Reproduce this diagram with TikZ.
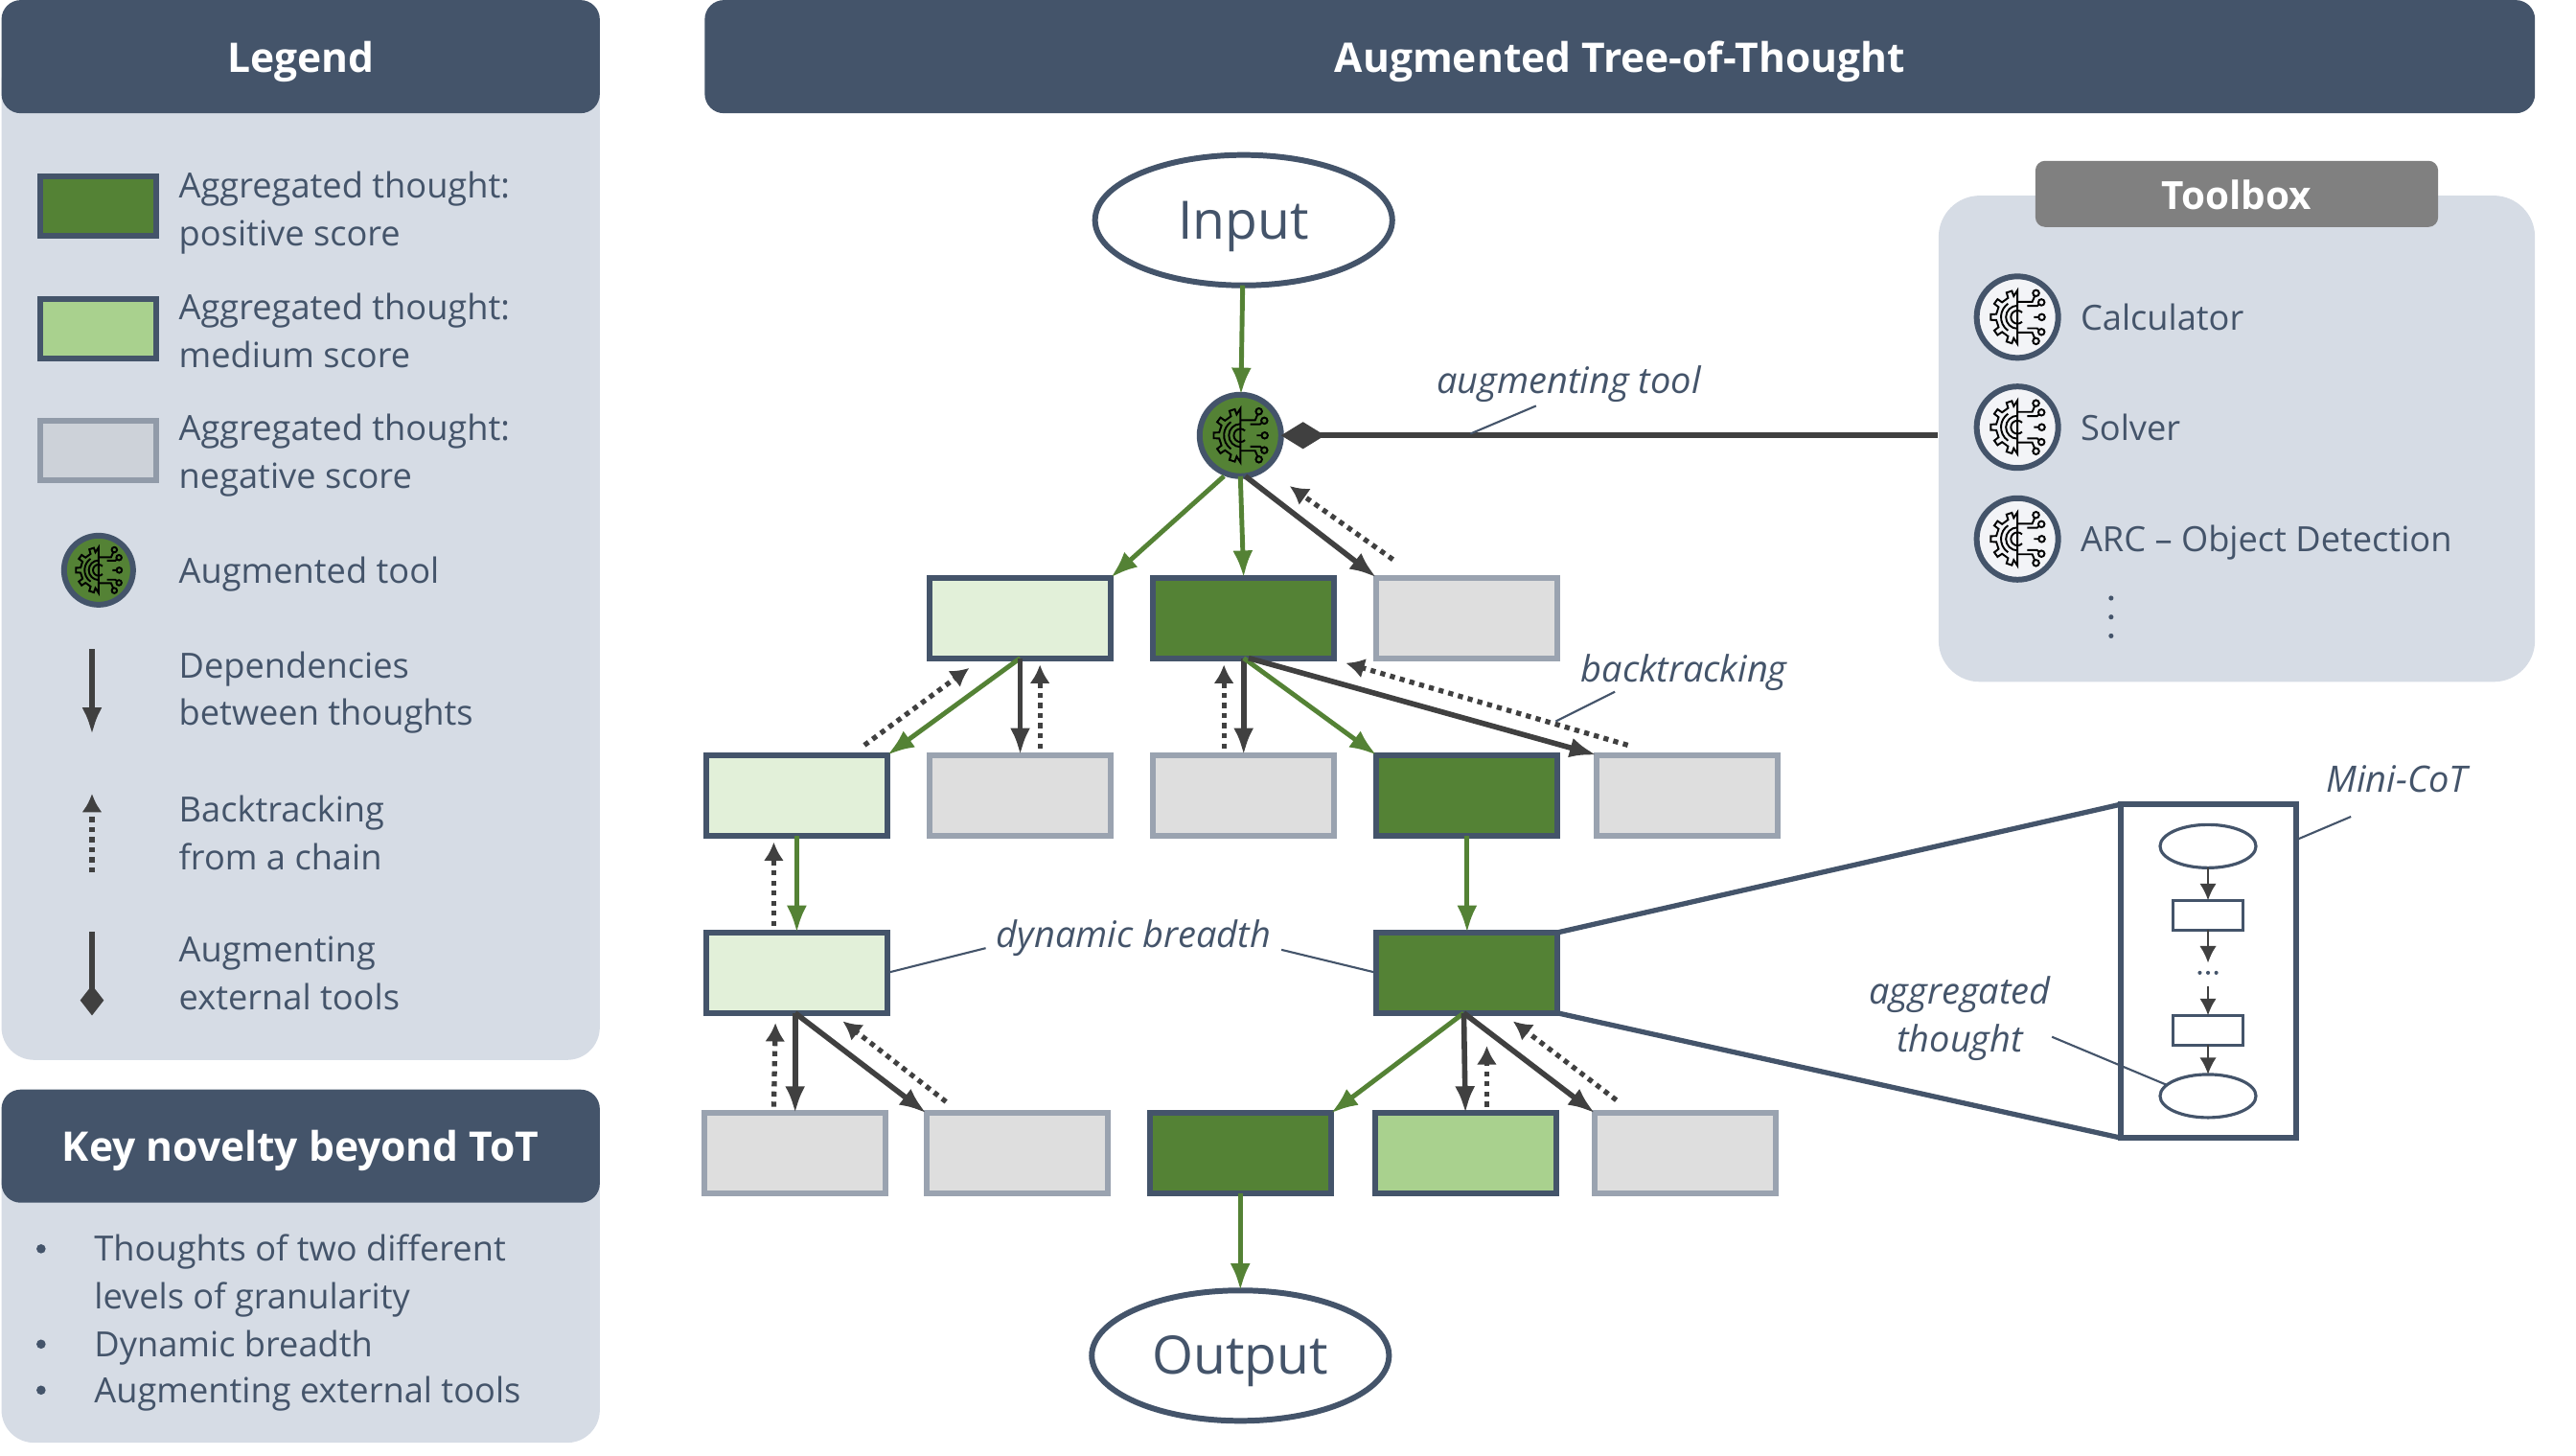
\documentclass[tikz,border=0pt]{standalone}
\usepackage{fontspec}
\setmainfont{Open Sans}
\usetikzlibrary{arrows.meta,shapes.geometric}
\definecolor{slate}{HTML}{44546A}
\definecolor{panel}{HTML}{D6DCE5}
\definecolor{leaf}{HTML}{548235}
\definecolor{medleaf}{HTML}{A9D18E}
\definecolor{paleleaf}{HTML}{E2F0D9}
\definecolor{ash}{HTML}{DEDEDE}
\definecolor{ashline}{HTML}{9AA3B0}
\definecolor{ink}{HTML}{404040}
\newcommand{\headlabel}[1]{\raisebox{-4.6pt}[0pt][0pt]{#1}}
\newcommand{\ovallabel}[1]{\raisebox{-5.6pt}[0pt][0pt]{#1}}
\tikzset{
  thought/.style={rectangle,line width=1.7pt,outer sep=0pt,minimum width=1.89cm,minimum height=0.84cm},
  thoughtpos/.style={thought,draw=slate,fill=leaf},
  thoughtmed/.style={thought,draw=slate,fill=medleaf},
  thoughtpale/.style={thought,draw=slate,fill=paleleaf},
  thoughtneg/.style={thought,draw=ashline,fill=ash},
  swatch/.style={rectangle,line width=1.7pt,outer sep=0pt,minimum width=1.21cm,minimum height=0.62cm},
  endpoint/.style={ellipse,draw=slate,fill=white,line width=1.7pt,outer sep=0pt,minimum width=3.1cm,minimum height=1.36cm,text=slate,font=\fontsize{15.7}{19}\selectfont},
  toolnode/.style={circle,draw=slate,line width=1.7pt,inner sep=0pt,outer sep=0pt,minimum size=0.85cm},
  header/.style={rectangle,rounded corners=0.2cm,fill=slate,minimum height=1.18cm,text=white,font=\fontsize{12.1}{15}\selectfont\bfseries},
  legtext/.style={anchor=west,align=left,inner sep=0pt,text=slate,font=\fontsize{10.3}{14.2}\selectfont},
  anno/.style={align=center,inner sep=0pt,text=slate,font=\fontsize{10.8}{14.2}\selectfont\itshape},
  leader/.style={draw=slate,line width=0.6pt},
  dep/.style={draw=ink,line width=1.6pt,-{Latex[length=8pt,width=6pt]}},
  depgood/.style={draw=leaf,line width=1.4pt,-{Latex[length=8pt,width=6pt]}},
  back/.style={draw=ink,line width=1.5pt,dash pattern=on 1.5pt off 1.5pt,-{Latex[length=5.5pt,width=6pt]}},
  mini/.style={draw=ink,line width=0.7pt,-{Latex[length=5pt,width=5pt]}},
  gearicon/.pic={
    \draw[black,line width=0.55pt] (0,-16.3)
      \foreach \a in {252,216,180,144,108} { -- (\a+8:13) -- (\a+6:16.3) -- (\a-6:16.3) -- (\a-8:13) }
      -- (0,16.3) -- cycle;
    \draw[black,line width=0.55pt] (45:4) arc[start angle=45,end angle=315,radius=4];
    \draw[black,line width=0.55pt] (90:7) arc[start angle=90,end angle=270,radius=7];
    \draw[black,line width=0.55pt] (125:10) arc[start angle=125,end angle=235,radius=10];
    \foreach \s in {1,-1} {
      \draw[black,line width=0.55pt] (0,\s*9.3) -- (9,\s*9.3) -- (10.5,\s*12.8) (11.3,\s*14.6) circle[radius=1.9];
      \draw[black,line width=0.55pt] (6,\s*6.8) -- (12,\s*6.8) -- (13.2,\s*7.9) (14.6,\s*9) circle[radius=1.9];
    }
    \draw[black,line width=0.55pt] (10,0) -- (12.8,0) (14.8,0) circle[radius=1.9];
  }
}
\begin{document}
\begin{tikzpicture}[x=0.01714cm,y=-0.01714cm]
  \useasboundingbox (0,0) rectangle (1568,886);
  % legend
  \node[fill=panel,rounded corners=0.34cm,minimum width=6.24cm,minimum height=10.54cm] (legendbody) at (183,337.5) {};
  \node[header,minimum width=6.24cm] (legendhead) at (183,34.5) {\headlabel{Legend}};
  \node[swatch,draw=slate,fill=leaf] (swatchpos) at (60,125.5) {};
  \node[swatch,draw=slate,fill=medleaf] (swatchmed) at (60,200) {};
  \node[swatch,draw=ashline!90!slate,fill=ash!80!slate!40!panel] (swatchneg) at (60,274) {};
  \node[toolnode,fill=leaf,minimum size=0.72cm] (swatchtool) at (60,347) {};
  \pic[scale=0.85] at (swatchtool) {gearicon};
  \node[legtext] at (108.5,129.5) {Aggregated thought:\\positive score};
  \node[legtext] at (108.5,201) {Aggregated thought:\\medium score};
  \node[legtext] at (108.5,277) {Aggregated thought:\\negative score};
  \node[legtext] at (108.5,349.5) {Augmented tool};
  \node[legtext] at (108.5,421.5) {Dependencies\\between thoughts};
  \node[legtext] at (108.5,507) {Backtracking\\from a chain};
  \node[legtext] at (108.5,592.5) {Augmenting\\external tools};
  \coordinate (keydepa) at (56,395);
  \coordinate (keydepb) at (56,447);
  \coordinate (keybacka) at (56,531);
  \coordinate (keybackb) at (56,483);
  \coordinate (keytoola) at (56,567);
  \coordinate (keytoolb) at (56,618);
  \draw[dep] (keydepa) -- (keydepb);
  \draw[back] (keybacka) -- (keybackb);
  \draw[draw=ink,line width=1.6pt,-{Diamond[length=9pt,width=7pt]}] (keytoola) -- (keytoolb);
  % key novelty
  \node[fill=panel,rounded corners=0.34cm,minimum width=6.24cm,minimum height=3.05cm] (keybody) at (183,789) {};
  \node[header,minimum width=6.24cm] (keyhead) at (183,697.5) {\headlabel{Key novelty beyond ToT}};
  \foreach \y in {760,818,846}
    \fill[slate] (25,\y) circle[radius=2.8];
  \node[legtext] at (57,762) {Thoughts of two different};
  \node[legtext] at (57,791) {levels of granularity};
  \node[legtext] at (57,820) {Dynamic breadth};
  \node[legtext] at (57,848) {Augmenting external tools};
  % toolbox
  \node[fill=panel,rounded corners=0.43cm,minimum width=6.22cm,minimum height=5.07cm] (toolbox) at (1361.5,267) {};
  \node[header,fill=black!50,rounded corners=0.1cm,minimum width=4.2cm,minimum height=0.69cm,font=\fontsize{11.5}{14}\selectfont\bfseries] (toolhead) at (1361.5,118) {\headlabel{Toolbox}};
  \foreach \n/\y/\ty/\t in {calc/193/193/Calculator,solver/260/260/Solver,arc/328/330/ARC – Object Detection} {
    \node[toolnode,fill=white!70!panel] (\n) at (1228,\y) {};
    \pic at (\n) {gearicon};
    \node[legtext] at (1266,\ty) {\t};
  }
  \foreach \y in {364,375.5,387}
    \fill[slate] (1285,\y) circle[radius=1.5];
  % tree
  \node[header,minimum width=19.09cm] (treehead) at (986,34.5) {\headlabel{Augmented Tree-of-Thought}};
  \node[endpoint] (input) at (757,134) {\ovallabel{Input}};
  \node[toolnode,fill=leaf] (tool) at (755,265) {};
  \pic at (tool) {gearicon};
  \node[thoughtpale] (ba) at (621,376) {};
  \node[thoughtpos] (bb) at (757,376) {};
  \node[thoughtneg] (bc) at (893,376) {};
  \node[thoughtpale] (ca) at (485,484) {};
  \node[thoughtneg] (cb) at (621,484) {};
  \node[thoughtneg] (cc) at (757,484) {};
  \node[thoughtpos] (cd) at (893,484) {};
  \node[thoughtneg] (ce) at (1027,484) {};
  \node[thoughtpale] (da) at (485,592) {};
  \node[thoughtpos] (db) at (893,592) {};
  \node[thoughtneg] (ea) at (484,702) {};
  \node[thoughtneg] (eb) at (619,702) {};
  \node[thoughtpos] (ec) at (755,702) {};
  \node[thoughtmed] (ed) at (892,702) {};
  \node[thoughtneg] (ee) at (1026,702) {};
  \node[endpoint] (output) at (755,825) {\ovallabel{Output}};
  % dependencies
  \draw[depgood] (input) -- (tool);
  \draw[depgood] ([shift={(-10,0)}]tool.south) -- (ba.north east);
  \draw[depgood] (tool.south) -- (bb.north);
  \draw[dep] ([shift={(3,0)}]tool.south) -- (bc.north west);
  \draw[depgood] (ba.south) -- (ca.north east);
  \draw[dep] (ba.south) -- (cb.north);
  \draw[dep] (bb.south) -- (cc.north);
  \draw[depgood] (bb.south) -- (cd.north west);
  \draw[dep] ([shift={(3,0)}]bb.south) -- (ce.north west);
  \draw[depgood] (ca.south) -- (da.north);
  \draw[depgood] (cd.south) -- (db.north);
  \draw[dep] ([shift={(-1,0)}]da.south) -- (ea.north);
  \draw[dep] ([shift={(-1,0)}]da.south) -- (eb.north west);
  \draw[depgood] ([shift={(-2,0)}]db.south) -- (ec.north east);
  \draw[dep] ([shift={(-2,0)}]db.south) -- (ed.north);
  \draw[dep] ([shift={(-2,0)}]db.south) -- (ee.north west);
  \draw[depgood] (ec.south) -- (output.north);
  % backtracking
  \draw[back] ([shift={(10,-11)}]bc.north west) -- ([shift={(30,6)}]tool.south);
  \draw[back] ([shift={(12,-4)}]cb.north) -- ([shift={(12,4)}]ba.south);
  \draw[back] ([shift={(-14,-6)}]ca.north east) -- ([shift={(-31,6)}]ba.south);
  \draw[back] ([shift={(-12,-4)}]cc.north) -- ([shift={(-12,4)}]bb.south);
  \draw[back] ([shift={(19,-6)}]ce.north west) -- ([shift={(7,3)}]bb.south east);
  \draw[back] ([shift={(-14,-4)}]da.north) -- ([shift={(-14,4)}]ca.south);
  \draw[back] ([shift={(-13,-4)}]ea.north) -- ([shift={(-13,6)}]da.south);
  \draw[back] ([shift={(12,-7)}]eb.north west) -- ([shift={(28,5)}]da.south);
  \draw[back] ([shift={(13,-4)}]ed.north) -- ([shift={(12,20)}]db.south);
  \draw[back] ([shift={(13,-8)}]ee.north west) -- ([shift={(28,5)}]db.south);
  % augmenting tool
  \draw[draw=ink,line width=1.7pt,{Diamond[length=13pt,width=8pt]}-] (tool.east) -- (tool.east -| toolbox.west);
  % mini chain
  \node[rectangle,draw=slate,fill=white,line width=1.7pt,outer sep=0pt,minimum width=1.83cm,minimum height=3.48cm] (minibox) at (1344.5,591) {};
  \draw[draw=slate,line width=1.5pt] (db.north east) -- (minibox.north west);
  \draw[draw=slate,line width=1.5pt] (db.south east) -- (minibox.south west);
  \node[ellipse,draw=slate,line width=0.9pt,minimum width=1cm,minimum height=0.45cm,outer sep=0pt] (minitop) at (1344,515) {};
  \node[rectangle,draw=slate,line width=0.7pt,minimum width=0.73cm,minimum height=0.31cm,outer sep=0pt] (minia) at (1344,557) {};
  \node[rectangle,draw=slate,line width=0.7pt,minimum width=0.73cm,minimum height=0.31cm,outer sep=0pt] (minib) at (1344,627) {};
  \node[ellipse,draw=slate,line width=0.9pt,minimum width=1cm,minimum height=0.45cm,outer sep=0pt] (minibot) at (1344,667) {};
  \coordinate (minidotsa) at (1344,586);
  \coordinate (minidotsb) at (1344,600);
  \foreach \x in {1339,1344,1349}
    \fill[slate] (\x,592) circle[radius=1.2];
  \draw[mini] (minitop) -- (minia);
  \draw[mini] (minia) -- (minidotsa);
  \draw[mini] (minidotsb) -- (minib);
  \draw[mini] (minib) -- (minibot);
  % annotations
  \node[anno] (labtool) at (955,234) {augmenting tool};
  \coordinate (labtoola) at (935,247);
  \coordinate (labtoolb) at (895,264);
  \draw[leader] (labtoola) -- (labtoolb);
  \node[anno] (labback) at (1025,409) {backtracking};
  \coordinate (labbacka) at (983,421);
  \coordinate (labbackb) at (947,439);
  \draw[leader] (labbacka) -- (labbackb);
  \node[anno] (labbreadth) at (690,571) {dynamic breadth};
  \coordinate (labbreadtha) at (600,577);
  \coordinate (labbreadthb) at (780,578);
  \draw[leader] (labbreadtha) -- (da.east);
  \draw[leader] (labbreadthb) -- (db.west);
  \node[anno] (labmini) at (1459,474) {Mini-CoT};
  \coordinate (labminia) at (1431,497);
  \coordinate (labminib) at (1398,511);
  \draw[leader] (labminia) -- (labminib);
  \node[anno] (labagg) at (1193,620) {aggregated\\thought};
  \coordinate (labagga) at (1249,631);
  \draw[leader] (labagga) -- (minibot.165);
\end{tikzpicture}
\end{document}
